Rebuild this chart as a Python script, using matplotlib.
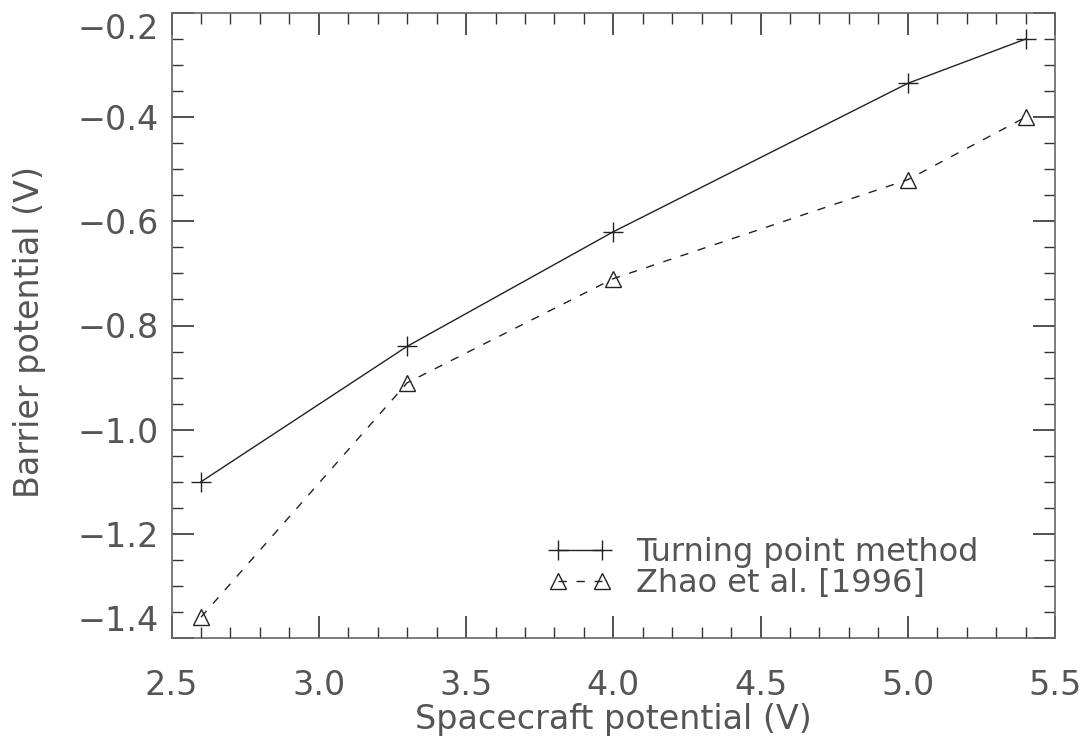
import matplotlib
matplotlib.use("Agg")
import matplotlib.pyplot as plt
from matplotlib.ticker import MultipleLocator, FuncFormatter

x_turning = [2.6, 3.3, 4.0, 5.0, 5.4]
y_turning = [-1.10, -0.84, -0.62, -0.335, -0.25]
x_zhao = [2.6, 3.3, 4.0, 5.0, 5.4]
y_zhao = [-1.36, -0.91, -0.71, -0.52, -0.40]
label_turning = "Turning point method"
label_zhao = "Zhao et al. [1996]"
xlabel = "Spacecraft potential (V)"
ylabel = "Barrier potential (V)"

plt.rcParams['font.family'] = ['DejaVu Sans']
txt = '#555555'
fs = 24

fig = plt.figure(figsize=(10.86, 7.44), dpi=100)
ax = fig.add_axes([0.158, 0.1425, 0.8135, 0.84])

ax.plot(x_turning, y_turning, color='#222222', lw=1.0, marker='+', ms=14, mew=1.0,
        label=label_turning)
ax.plot(x_zhao, y_zhao, color='#222222', lw=1.0, ls=(0, (6, 7)), marker='^', ms=12,
        mfc='none', mec='#222222', mew=1.0, label=label_zhao)

ax.set_xlim(2.5, 5.5)
ax.set_ylim(-1.4, -0.2)
ax.xaxis.set_major_locator(MultipleLocator(0.5))
ax.xaxis.set_minor_locator(MultipleLocator(0.1))
ax.yaxis.set_major_locator(MultipleLocator(0.2))
ax.yaxis.set_minor_locator(MultipleLocator(0.05))
fmt = FuncFormatter(lambda v, p: ('%.1f' % v).replace('-', '\u2212'))
ax.xaxis.set_major_formatter(fmt)
ax.yaxis.set_major_formatter(fmt)

ax.tick_params(which='both', direction='in', top=True, right=True, color='#333333',
               labelcolor=txt, labelsize=fs)
ax.tick_params(which='major', length=16, width=1.2)
ax.tick_params(which='minor', length=8, width=1.0)
ax.tick_params(axis='x', which='major', pad=22)
ax.tick_params(axis='y', which='major', pad=9)
for s in ax.spines.values():
    s.set_color('#666666')
    s.set_linewidth(1.2)

ax.set_xlabel(xlabel, fontsize=fs, color=txt)
ax.set_ylabel(ylabel, fontsize=fs, color=txt)
ax.xaxis.set_label_coords(0.5, -0.131)
ax.xaxis.label.set_va('center')
ax.yaxis.set_label_coords(-0.161, 0.49)
ax.yaxis.label.set_va('center')

leg = ax.legend(loc='upper left', bbox_to_anchor=(0.426, 0.162), frameon=False, fontsize=23,
                numpoints=2, handlelength=2.0, handletextpad=0.75, labelspacing=0.0,
                labelcolor=txt, borderaxespad=0.0, borderpad=0.0)

fig.canvas.draw()
for t in ax.get_yticklabels():
    v = t.get_position()[1]
    if abs(v - (-0.2)) < 1e-6:
        t.set_va('top')
    elif abs(v - (-1.4)) < 1e-6:
        t.set_va('bottom')

fig.savefig('out.png', dpi=100, facecolor='white')
